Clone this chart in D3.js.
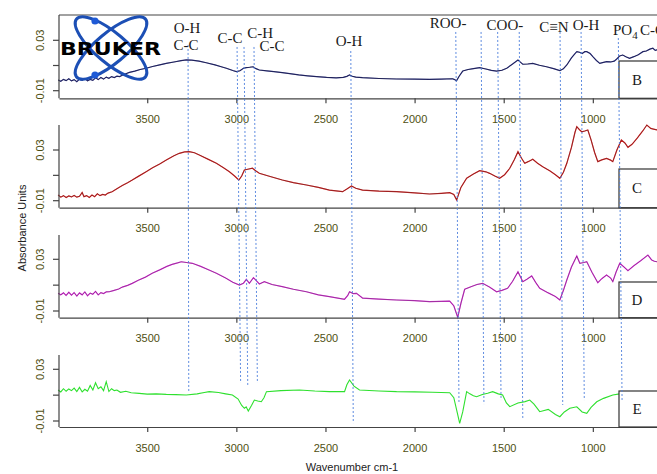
<!DOCTYPE html>
<meta charset="utf-8">
<style>
body { margin: 0; background: #fff; }
svg { display: block; }
.tick text, .ylab { font-family: "Liberation Sans", Arial, sans-serif; font-size: 11px; fill: #4f4f12; }
.axis path, .axis line { stroke: #444; stroke-width: 1.2px; }
.ann { font-family: "Liberation Serif", "Times New Roman", serif; font-size: 15px; fill: #1a1a1a; }
.plab { font-family: "Liberation Serif", "Times New Roman", serif; font-size: 15px; fill: #1a1a1a; }
.title { font-family: "Liberation Sans", Arial, sans-serif; font-size: 11px; fill: #222; }
.marker { stroke: #4d7fdc; stroke-width: .9px; stroke-dasharray: 2,2; }
</style>
<svg width="657" height="474"></svg>
<script src="https://cdn.jsdelivr.net/npm/d3@7"></script>
<script>

// wavenumber (cm-1), absorbance
var specB = [[4000,-0.0015],[3985,-0.0025],[3970,-0.001],[3955,-0.002],[3940,-0.0005],[3925,-0.0022],[3910,-0.0012],[3895,-0.0028],[3880,-0.0008],[3865,-0.0018],[3850,-0.0003],[3835,-0.0022],[3820,-0.001],[3805,-0.0018],[3790,0.0002],[3775,-0.0012],[3760,0.0005],[3745,-0.0008],[3730,0.0008],[3715,-0.0002],[3700,0.0012],[3685,0.0004],[3670,0.0015],[3655,0.0012],[3640,0.0022],[3620,0.0035],[3600,0.0045],[3570,0.0055],[3540,0.0068],[3506,0.0078],[3470,0.0092],[3430,0.0105],[3393,0.0117],[3350,0.0128],[3310,0.0138],[3281,0.0144],[3250,0.0142],[3210,0.0135],[3169,0.0122],[3120,0.0105],[3080,0.0088],[3056,0.0078],[3020,0.006],[3000,0.0051],[2980,0.0058],[2960,0.0078],[2944,0.0083],[2925,0.0086],[2906,0.009],[2890,0.0075],[2871,0.0064],[2830,0.0058],[2790,0.0052],[2742,0.0043],[2700,0.0035],[2650,0.0025],[2600,0.0018],[2550,0.0012],[2494,0.0006],[2440,0.0002],[2400,0.0006],[2380,0.0014],[2365,0.0025],[2350,0.0015],[2330,0.0008],[2292,0.0003],[2200,-0.0003],[2101,-0.0007],[2000,-0.0008],[1916,-0.001],[1850,-0.0008],[1787,-0.0005],[1775,-0.0012],[1765,-0.0022],[1750,0.0015],[1730,0.0056],[1700,0.0068],[1670,0.0075],[1635,0.0083],[1600,0.0072],[1570,0.0062],[1540,0.0056],[1510,0.0062],[1483,0.0078],[1450,0.0112],[1420,0.0144],[1405,0.0125],[1393,0.011],[1365,0.0112],[1337,0.0117],[1300,0.0102],[1260,0.009],[1220,0.0075],[1185,0.0059],[1165,0.0075],[1146,0.0104],[1120,0.016],[1100,0.0195],[1090,0.021],[1075,0.0205],[1060,0.0195],[1045,0.021],[1034,0.021],[1015,0.0195],[1000,0.017],[980,0.014],[961,0.0117],[940,0.0125],[923,0.013],[900,0.0128],[880,0.0135],[867,0.015],[850,0.0175],[832,0.0183],[815,0.017],[794,0.0157],[770,0.017],[745,0.0185],[719,0.021],[700,0.0215],[680,0.023],[663,0.0237],[650,0.022],[640,0.0225]];

var specC = [[4000,-0.0055],[3985,-0.0072],[3970,-0.006],[3955,-0.0075],[3940,-0.0062],[3925,-0.007],[3910,-0.0058],[3895,-0.0072],[3880,-0.0065],[3865,-0.0035],[3855,-0.0068],[3840,-0.006],[3825,-0.0075],[3810,-0.0055],[3795,-0.0068],[3780,-0.0045],[3765,-0.006],[3750,-0.005],[3735,-0.0055],[3720,-0.004],[3697,-0.0029],[3670,-0.0005],[3640,0.002],[3610,0.0042],[3584,0.0063],[3550,0.0092],[3506,0.0129],[3470,0.016],[3430,0.019],[3393,0.0221],[3350,0.0255],[3320,0.0274],[3290,0.0285],[3264,0.0287],[3235,0.0278],[3208,0.0261],[3160,0.0228],[3112,0.0195],[3070,0.0158],[3039,0.0129],[3010,0.0095],[2986,0.0063],[2970,0.0095],[2955,0.0142],[2930,0.015],[2910,0.0156],[2890,0.0135],[2871,0.0116],[2820,0.0095],[2742,0.0063],[2680,0.0042],[2607,0.0024],[2540,0.0005],[2478,-0.0016],[2404,-0.0029],[2380,-0.0008],[2354,0.0016],[2330,-0.0002],[2292,-0.0016],[2200,-0.0024],[2101,-0.0029],[2000,-0.0038],[1916,-0.0047],[1850,-0.0042],[1803,-0.0037],[1780,-0.005],[1764,-0.0095],[1740,0.0005],[1708,0.0077],[1670,0.011],[1635,0.0137],[1600,0.0128],[1579,0.0116],[1550,0.0095],[1523,0.0077],[1495,0.0105],[1466,0.0156],[1440,0.0225],[1420,0.0287],[1400,0.0235],[1382,0.0195],[1360,0.021],[1337,0.0227],[1310,0.0195],[1281,0.0168],[1240,0.0135],[1210,0.0105],[1185,0.0077],[1165,0.0125],[1146,0.0195],[1120,0.032],[1100,0.044],[1090,0.0484],[1075,0.046],[1062,0.0444],[1045,0.045],[1028,0.0458],[1010,0.038],[990,0.028],[972,0.0208],[950,0.0222],[923,0.0234],[900,0.022],[888,0.0208],[865,0.03],[840,0.0379],[820,0.0355],[803,0.0321],[780,0.0345],[750,0.0395],[720,0.045],[697,0.0497],[675,0.047],[660,0.0465],[640,0.0458]];

var specD = [[4000,0.0037],[3985,0.0025],[3970,0.004],[3955,0.002],[3940,0.0045],[3925,0.0022],[3910,0.0042],[3895,0.0015],[3880,0.004],[3865,0.0025],[3850,0.0048],[3835,0.0018],[3820,0.0038],[3805,0.003],[3790,0.0052],[3775,0.0025],[3760,0.0042],[3745,0.0035],[3730,0.0048],[3713,0.0049],[3690,0.0058],[3660,0.007],[3640,0.0085],[3610,0.0098],[3584,0.0114],[3550,0.0138],[3510,0.0162],[3472,0.0192],[3430,0.0218],[3390,0.0245],[3360,0.0261],[3330,0.0272],[3309,0.0281],[3280,0.0275],[3247,0.0269],[3200,0.0245],[3150,0.0215],[3112,0.0192],[3060,0.0155],[3020,0.0122],[2983,0.0101],[2960,0.0115],[2944,0.0145],[2927,0.0114],[2904,0.0158],[2871,0.0109],[2843,0.0127],[2800,0.0105],[2742,0.0088],[2680,0.0068],[2607,0.0049],[2540,0.0025],[2478,0.0011],[2393,-0.0009],[2375,0.002],[2365,0.0049],[2345,0.0035],[2326,0.0037],[2292,0.0],[2200,-0.0008],[2101,-0.0015],[2000,-0.002],[1916,-0.0028],[1850,-0.0025],[1803,-0.0023],[1780,-0.006],[1758,-0.0149],[1740,-0.004],[1719,0.0068],[1680,0.009],[1650,0.0105],[1618,0.0114],[1580,0.0085],[1540,0.0049],[1510,0.006],[1478,0.0076],[1450,0.013],[1420,0.0204],[1393,0.0127],[1370,0.0145],[1343,0.0171],[1320,0.012],[1298,0.0076],[1250,0.004],[1210,0.0012],[1185,-0.0015],[1165,0.006],[1146,0.014],[1120,0.024],[1090,0.0326],[1073,0.0269],[1050,0.0275],[1034,0.0281],[1005,0.02],[972,0.0119],[950,0.015],[923,0.0178],[900,0.0155],[888,0.0127],[870,0.02],[849,0.0269],[825,0.024],[803,0.0212],[770,0.025],[730,0.029],[691,0.0333],[670,0.0295],[655,0.0285],[640,0.0281]];

var specE = [[4000,0.014],[3985,0.0125],[3970,0.015],[3955,0.013],[3940,0.0148],[3925,0.0135],[3910,0.0155],[3895,0.0128],[3880,0.016],[3865,0.0125],[3850,0.0145],[3835,0.013],[3820,0.0175],[3805,0.014],[3790,0.0196],[3775,0.015],[3760,0.0165],[3745,0.0135],[3730,0.0204],[3715,0.0128],[3700,0.015],[3685,0.0135],[3670,0.014],[3650,0.0122],[3620,0.013],[3590,0.0118],[3545,0.0114],[3500,0.0108],[3450,0.011],[3393,0.0106],[3340,0.0104],[3281,0.0101],[3220,0.011],[3180,0.012],[3152,0.0127],[3100,0.012],[3060,0.011],[3022,0.0101],[2990,0.007],[2970,0.002],[2955,-0.0002],[2945,0.001],[2933,-0.0023],[2915,0.002],[2899,0.0062],[2880,0.0055],[2860,0.0049],[2845,0.008],[2831,0.0127],[2750,0.0135],[2646,0.014],[2560,0.0132],[2478,0.0127],[2393,0.0127],[2380,0.018],[2365,0.0217],[2340,0.017],[2309,0.014],[2200,0.0132],[2101,0.0127],[2000,0.0125],[1900,0.0122],[1803,0.0119],[1780,0.008],[1760,-0.004],[1747,-0.0118],[1730,-0.003],[1708,0.0127],[1690,0.011],[1670,0.0095],[1652,0.0088],[1620,0.0105],[1590,0.0115],[1562,0.0127],[1530,0.011],[1506,0.0101],[1485,0.004],[1466,0.0011],[1420,0.004],[1380,0.005],[1354,0.0062],[1330,0.003],[1298,-0.0028],[1250,-0.001],[1210,-0.005],[1185,-0.0067],[1160,-0.003],[1129,-0.0002],[1090,0.001],[1060,-0.003],[1034,-0.0041],[1010,0.0005],[978,0.0049],[940,0.0075],[888,0.0101],[850,0.011],[800,0.0115],[740,0.012],[640,0.0125]];

var xTicks = [3500, 3000, 2500, 2000, 1500, 1000];
var yTicks = [-0.01, 0.01, 0.03];
var yTickLabels = ["-0.01", "", "0.03"];

// dashed band markers: wavenumber at top (panel B) and at bottom (panel E), and absorbance where they stop
var markTopWn = [3271, 2996, 2957, 2901, 2358, 1769, 1627, 1534, 1413, 1184, 1066, 857];
var markBotWn = [3267, 2976, 2936, 2882, 2344, 1751, 1611, 1515, 1393, 1169, 1048, 836];
var markTopAbs = [0.0263, 0.0247, 0.0247, 0.0247, 0.0215, 0.0366, 0.0366, 0.0366, 0.0366, 0.0366, 0.0366, 0.0318];
var markBotAbs = [0.0124, 0.0194, 0.0171, 0.0194, -0.0116, 0.0039, 0.0031, 0.0062, -0.0077, 0.0024, 0.0062, 0.0062];

var annText = ["O-H", "C-C", "C-C", "C-H", "C-C", "O-H", "ROO-", "COO-", "C\u2261N", "O-H"];
var annWn = [3277, 3283, 3036, 2867, 2800, 2368, 1812, 1493, 1218, 1038];
var annBase = [33, 50, 43, 38, 51, 46, 28, 30, 32, 30];

var svg = d3.select("svg");

var x = d3.scaleLinear().domain([3995, 640]).range([59, 657]);

var panels = [
  {name: "B", data: specB, top: 15, y03: 40.3, ym01: 90.7, bottom: 98.3, boxTop: 61, frame: true, base: "#2b2f8a", over: "#111"},
  {name: "C", data: specC, top: 125, y03: 150, ym01: 200.7, bottom: 207.7, boxTop: 169, base: "#e01818", over: "#333"},
  {name: "D", data: specD, top: 235, y03: 259.3, ym01: 311, bottom: 317.7, boxTop: 282, base: "#dc28dc", over: "#4a3a4a"},
  {name: "E", data: specE, top: 355, y03: 369.3, ym01: 421, bottom: 427, boxTop: 391, base: "#2ee02e", over: null}
];

panels.forEach(function(p) {
  p.y = d3.scaleLinear().domain([-0.01, 0.03]).range([p.ym01, p.y03]);

  var line = d3.line()
    .x(function(d) { return x(d[0]); })
    .y(function(d) { return p.y(d[1]); });

  svg.append("path").datum(p.data)
    .attr("d", line)
    .attr("fill", "none")
    .attr("stroke", p.base)
    .attr("stroke-width", p.over ? 1.2 : 1.1);
  if (p.over) {
    svg.append("path").datum(p.data)
      .attr("d", line)
      .attr("fill", "none")
      .attr("stroke", p.over)
      .attr("stroke-opacity", 0.7)
      .attr("stroke-width", 0.6);
  }

  // bottom axis
  svg.append("g")
    .attr("class", "axis")
    .attr("transform", "translate(0," + p.bottom + ")")
    .call(d3.axisBottom(x).tickValues(xTicks).tickSize(5).tickSizeOuter(0).tickPadding(12).tickFormat(d3.format("d")));

  // left axis, drawn by hand so the line runs past the ticks like R's box
  svg.append("line")
    .attr("x1", 59).attr("x2", 59)
    .attr("y1", p.top).attr("y2", p.bottom)
    .attr("stroke", "#444").attr("stroke-width", 1.2);
  yTicks.forEach(function(v, i) {
    svg.append("line")
      .attr("x1", 53).attr("x2", 59)
      .attr("y1", p.y(v)).attr("y2", p.y(v))
      .attr("stroke", "#444").attr("stroke-width", 1.2);
    if (yTickLabels[i]) {
      svg.append("text")
        .attr("class", "ylab")
        .attr("transform", "translate(44," + p.y(v) + ") rotate(-90)")
        .attr("text-anchor", "middle")
        .text(yTickLabels[i]);
    }
  });

  if (p.frame) {
    svg.append("line")
      .attr("x1", 59).attr("x2", 657)
      .attr("y1", p.top).attr("y2", p.top)
      .attr("stroke", "#444").attr("stroke-width", 1.2);
  }

  // sample label box
  svg.append("rect")
    .attr("x", 619).attr("y", p.boxTop)
    .attr("width", 60).attr("height", p.bottom - p.boxTop)
    .attr("fill", "#fff").attr("stroke", "#333").attr("stroke-width", 1.2);
  svg.append("text")
    .attr("class", "plab")
    .attr("x", 637).attr("y", (p.boxTop + p.bottom) / 2 + 5)
    .attr("text-anchor", "middle")
    .text(p.name);
});

// Bruker logo
var logo = svg.append("g");
[40, -40].forEach(function(a) {
  logo.append("ellipse")
    .attr("cx", 111).attr("cy", 48).attr("rx", 45).attr("ry", 15)
    .attr("transform", "rotate(" + a + ",111,48)")
    .attr("fill", "none").attr("stroke", "#1c4fb5").attr("stroke-width", 3);
});
[[95, 21], [95, 75]].forEach(function(c) {
  logo.append("circle").attr("cx", c[0]).attr("cy", c[1]).attr("r", 3.6).attr("fill", "#1f5ad6");
});
logo.append("text")
  .attr("x", 60).attr("y", 55)
  .attr("textLength", 101).attr("lengthAdjust", "spacingAndGlyphs")
  .style("font-family", "'DejaVu Sans', sans-serif")
  .style("font-weight", "bold").style("font-size", "18px")
  .attr("fill", "#000")
  .text("BRUKER");

// dashed band markers
var pB = panels[0], pE = panels[3];
markTopWn.forEach(function(w, i) {
  svg.append("line")
    .attr("class", "marker")
    .attr("x1", x(w)).attr("y1", pB.y(markTopAbs[i]))
    .attr("x2", x(markBotWn[i])).attr("y2", pE.y(markBotAbs[i]));
});

// band labels
annText.forEach(function(t, i) {
  svg.append("text")
    .attr("class", "ann")
    .attr("x", x(annWn[i])).attr("y", annBase[i])
    .attr("text-anchor", "middle")
    .text(t);
});
var po = svg.append("text").attr("class", "ann").attr("x", x(887)).attr("y", 35);
po.append("tspan").text("PO");
po.append("tspan").attr("dy", 4).style("font-size", "11px").text("4");
svg.append("text").attr("class", "ann").attr("x", x(735)).attr("y", 35).text("C-C");

// axis titles
svg.append("text")
  .attr("class", "title")
  .attr("transform", "translate(26,228) rotate(-90)")
  .attr("text-anchor", "middle")
  .text("Absorbance Units");
svg.append("text")
  .attr("class", "title")
  .attr("x", 352).attr("y", 471)
  .attr("text-anchor", "middle")
  .text("Wavenumber cm-1");

</script>
